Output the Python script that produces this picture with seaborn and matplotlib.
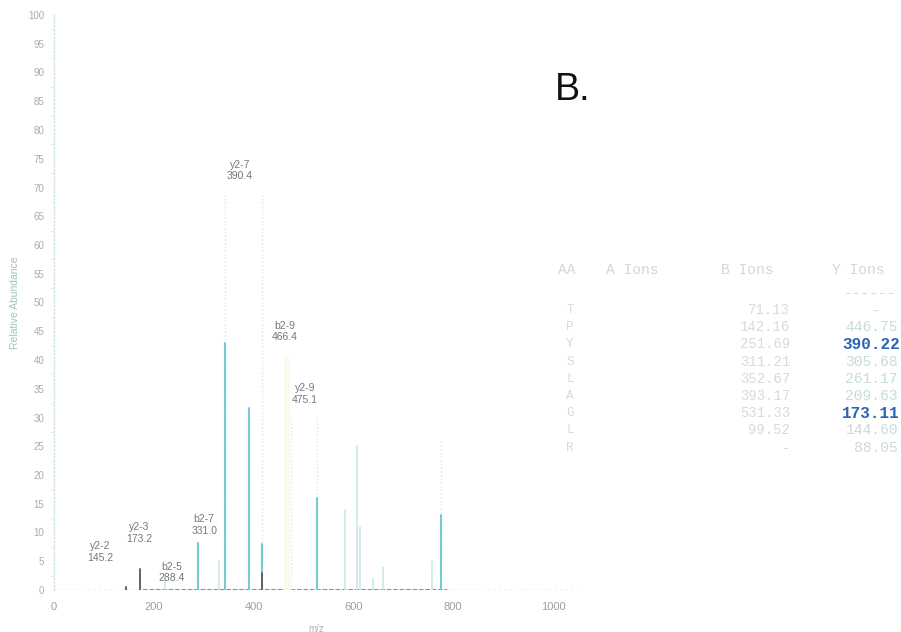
import matplotlib
matplotlib.use("Agg")
import matplotlib.pyplot as plt
from matplotlib.ticker import MultipleLocator
import numpy as np
import pandas as pd
import seaborn as sns

# ---- annotated fragment ions (doubly charged) ----
ion_names = ["y2-2", "y2-3", "b2-5", "b2-7", "y2-7", "b2-9", "y2-9"]
ion_mz = [145.2, 173.2, 288.4, 331.0, 390.4, 466.4, 475.1]
ion_intensity = [0.6, 3.6, 8.1, 5.0, 31.7, 40.0, 30.0]
ion_style = ["dark", "dark", "teal", "pale", "teal", "cream", "faint"]
# where each annotation sits (m/z, relative abundance)
ion_label_x = [92, 170, 236, 301, 373, 463, 503]
ion_label_y = [6.6, 9.9, 3.1, 11.3, 72.9, 45.0, 34.1]

# ---- other centroid peaks ----
peak_mz = [222.0, 343.0, 343.0, 417.0, 417.0, 417.0, 527.0, 527.0,
           583.0, 607.0, 613.0, 639.0, 659.0, 757.0, 776.0, 776.0]
peak_intensity = [1.5, 69.0, 43.0, 69.0, 8.0, 3.0, 30.0, 16.0,
                  14.0, 25.0, 11.0, 2.0, 4.0, 5.0, 26.0, 13.0]
peak_style = ["pale", "faint", "teal", "faint", "teal", "dark", "faint", "teal",
              "pale", "pale", "pale", "pale", "pale", "pale", "faint", "teal"]

# ---- fragment table ----
table_aa = ["T", "P", "Y", "S", "L", "A", "G", "L", "R"]
table_b = ["71.13", "142.16", "251.69", "311.21", "352.67", "393.17", "531.33", "99.52", "-"]
table_y = ["-", "446.75", "390.22", "305.68", "261.17", "209.63", "173.11", "144.60", "88.05"]
matched_y = ["390.22", "173.11"]

x_ticks = [0, 200, 400, 600, 800, 1000]
y_ticks = list(range(0, 101, 5))

styles = {
    "faint": dict(color="#dfe4e4", lw=1.0, ls=":"),
    "cream": dict(color="#fbf9ea", lw=4.0, ls="-"),
    "pale": dict(color="#c8e6e9", lw=1.1, ls="-"),
    "teal": dict(color="#74cbd3", lw=1.5, ls="-"),
    "dark": dict(color="#5a6664", lw=1.4, ls="-"),
}

# long-form table: every stick runs from the baseline up to its intensity
rows = []
all_mz = ion_mz + peak_mz
all_int = ion_intensity + peak_intensity
all_style = ion_style + peak_style
for i, (m, h, s) in enumerate(zip(all_mz, all_int, all_style)):
    rows.append(dict(peak=i, mz=m, intensity=0.0, style=s))
    rows.append(dict(peak=i, mz=m, intensity=h, style=s))
spec = pd.DataFrame(rows)

sns.set_style("white")
plt.rcParams["font.family"] = ["Liberation Sans", "DejaVu Sans"]

W, H = 901, 632
fig = plt.figure(figsize=(W / 100, H / 100), dpi=100)
ax = fig.add_axes([54 / W, (H - 590) / H, 524 / W, 575 / H])
ax.set_xlim(0, 1050)
ax.set_ylim(0, 100)

# baseline noise trace
ax.axhline(0, color="#a3abab", lw=1.0, ls=(0, (1.5, 2.5)), zorder=1)
ax.axhline(0, xmin=0.17, xmax=0.75, color="#66706f", lw=1.1,
           ls=(0, (3, 1.2)), zorder=2)

for key in ["faint", "cream", "pale", "teal", "dark"]:
    sub = spec[spec["style"] == key]
    if sub.empty:
        continue
    st = styles[key]
    sns.lineplot(data=sub, x="mz", y="intensity", units="peak", estimator=None,
                 color=st["color"], lw=st["lw"], ls=st["ls"], ax=ax,
                 legend=False, zorder=3)

for name, m, lx, ly in zip(ion_names, ion_mz, ion_label_x, ion_label_y):
    ax.text(lx, ly, f"{name}\n{m:.1f}", ha="center", va="center",
            fontsize=7.5, color="#737876", linespacing=1.15, zorder=5)

# axes styling
for side in ["top", "right", "bottom"]:
    ax.spines[side].set_visible(False)
ax.spines["left"].set_color("#cfe5e7")
ax.spines["left"].set_linestyle(":")
ax.spines["left"].set_linewidth(1.0)
ax.set_xticks(x_ticks)
ax.set_yticks(y_ticks)
ax.yaxis.set_minor_locator(MultipleLocator(2.5))
ax.tick_params(axis="y", which="major", length=4, width=0.8, color="#c8d6d6",
               labelsize=7, labelcolor="#a6adad", pad=3)
ax.tick_params(axis="y", which="minor", length=2, width=0.6, color="#d6e2e2", left=True)
ax.tick_params(axis="x", which="major", length=3, width=0.8, color="#c8d0d0",
               labelsize=8, labelcolor="#9a9f9f", pad=6)
ax.set_xlabel("m/z", fontsize=7, color="#a9b3b3", labelpad=8)
ax.set_ylabel("Relative Abundance", fontsize=7.5, color="#9fc2c6", labelpad=6)
ax.grid(False)

# panel letter
fig.text(555 / W, 1 - 100 / H, "B.", fontsize=27, color="#111111",
         ha="left", va="baseline")

# fragment table
mono = ["Liberation Mono", "DejaVu Sans Mono"]
def fy(py):
    return 1 - py / H

hdr_y = 270
for txt, px in [("AA", 558), ("A Ions", 606), ("B Ions", 721), ("Y Ions", 832)]:
    fig.text(px / W, fy(hdr_y), txt, family=mono, fontsize=10.5,
             color="#d3d7d7", ha="left", va="center")
fig.text(896 / W, fy(293), "------", family=mono, fontsize=10.5,
         color="#d3d7d7", ha="right", va="center")

row0, step = 310, 17.2
for i, (aa, b, y) in enumerate(zip(table_aa, table_b, table_y)):
    py = row0 + step * i
    fig.text(570 / W, fy(py), aa, family=mono, fontsize=9,
             color="#d7dbdb", ha="center", va="center")
    fig.text(790 / W, fy(py), b, family=mono, fontsize=10,
             color="#d7dbdb", ha="right", va="center")
    if y in matched_y:
        fig.text(900 / W, fy(py), y, family=mono, fontsize=11.5,
                 fontweight="bold", color="#2a64b4", ha="right", va="center")
    elif y == "-":
        fig.text(876 / W, fy(py), y, family=mono, fontsize=10.5,
                 color="#c9dadd", ha="center", va="center")
    else:
        fig.text(898 / W, fy(py), y, family=mono, fontsize=10.5,
                 color="#c9dadd", ha="right", va="center")

fig.savefig("out.png", dpi=100, facecolor="white")
